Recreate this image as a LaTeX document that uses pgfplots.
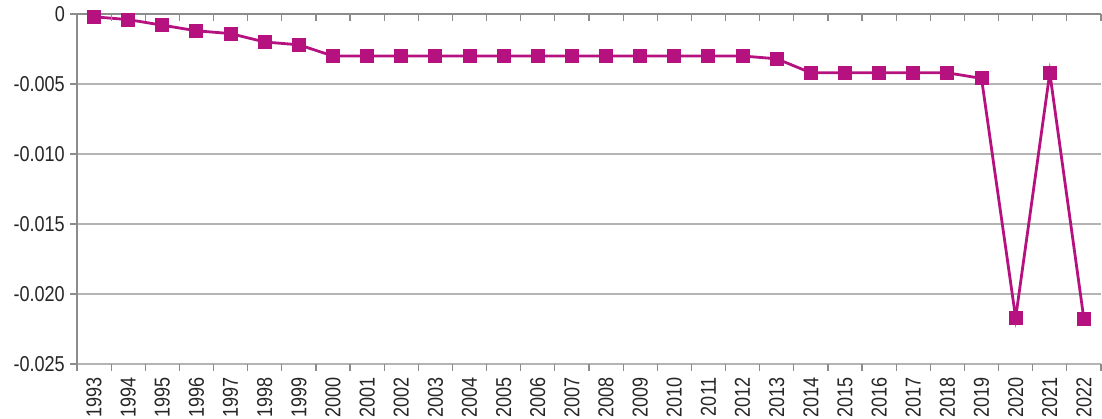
\documentclass[border=0pt]{standalone}
\usepackage{fontspec}
\setmainfont{Liberation Sans}[FakeStretch=0.84]
\usepackage{pgfplots}
\pgfplotsset{compat=1.18}
\definecolor{line}{HTML}{B5127F}
\definecolor{grid}{HTML}{B4B4B4}
\definecolor{axisc}{HTML}{8C8C8C}
\definecolor{txt}{HTML}{262626}
\begin{document}
\begin{tikzpicture}[x=1pt,y=1pt]
\begin{axis}[
  at={(0,0)}, anchor=south west,
  scale only axis, width=1024pt, height=350pt,
  xmin=-0.5, xmax=29.5, ymin=-0.025, ymax=0,
  axis line style={draw=none},
  scaled y ticks=false, scaled x ticks=false,
  xtick={0,...,29},
  xticklabels={1993,1994,1995,1996,1997,1998,1999,2000,2001,2002,2003,2004,2005,2006,2007,2008,2009,2010,2011,2012,2013,2014,2015,2016,2017,2018,2019,2020,2021,2022},
  x tick label style={rotate=90, anchor=east, inner sep=2pt, xshift=-4pt},
  xtick pos=lower,
  xtick style={draw=none},
  ytick={-0.025,-0.020,-0.015,-0.010,-0.005,0},
  yticklabels={-0.025,-0.020,-0.015,-0.010,-0.005,0},
  ytick pos=left, tick align=outside,
  y tick label style={inner sep=2pt, xshift=-3pt},
  ytick style={draw=axisc, line width=1.2pt},
  major tick length=7pt,
  ymajorgrids, grid style={draw=grid, line width=1.3pt},
  tick label style={font=\fontsize{21.5}{24}\selectfont, text=txt},
  clip=false,
]
\addplot[line, line width=2.8pt, mark=square*, mark size=6.5pt, mark options={line width=0pt}] coordinates {
(0,-0.0002) (1,-0.0004) (2,-0.0008) (3,-0.0012) (4,-0.0014) (5,-0.0020) (6,-0.0022)
(7,-0.0030) (8,-0.0030) (9,-0.0030) (10,-0.0030) (11,-0.0030) (12,-0.0030) (13,-0.0030)
(14,-0.0030) (15,-0.0030) (16,-0.0030) (17,-0.0030) (18,-0.0030) (19,-0.0030) (20,-0.0032)
(21,-0.0042) (22,-0.0042) (23,-0.0042) (24,-0.0042) (25,-0.0042) (26,-0.0046)
(27,-0.0217) (28,-0.0042) (29,-0.0218)
};
\draw[axisc, line width=1.3pt] (axis cs:-0.5,0) -- (axis cs:29.5,0);
\draw[axisc, line width=1.3pt] (axis cs:-0.5,0) -- (axis cs:-0.5,-0.025);
\pgfplotsinvokeforeach{0,...,29}{
  \draw[axisc, line width=1.2pt] (axis cs:#1+0.5,0) -- ([yshift=-7pt]axis cs:#1+0.5,0);
  \draw[axisc, line width=1.2pt] (axis cs:#1-0.5,-0.025) -- ([yshift=-7pt]axis cs:#1-0.5,-0.025);
}
\draw[axisc, line width=1.2pt] (axis cs:29.5,-0.025) -- ([yshift=-7pt]axis cs:29.5,-0.025);
\end{axis}
\pgfresetboundingbox
\path[use as bounding box] (-77,-54) rectangle (1025,364);
\end{tikzpicture}
\end{document}
